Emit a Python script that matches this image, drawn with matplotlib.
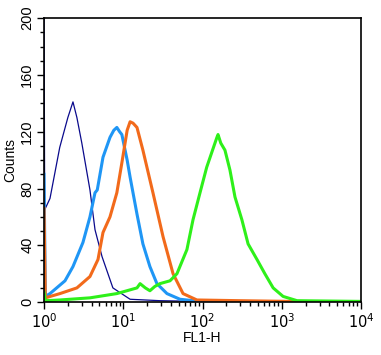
import matplotlib.pyplot as plt
import numpy as np

plt.rcParams['font.family'] = ['Liberation Sans', 'DejaVu Sans']

# FL1-H positions / counts
navy_x = [1.0, 1.02, 1.19, 1.58, 2.0, 2.32, 2.6, 3.0, 3.8, 4.4, 5.4, 7.4, 12.2, 29, 93, 300]
navy_y = [215, 65, 73, 109, 130, 141, 130, 112, 79, 51, 32, 10, 2, 1, 0.5, 0]

blue_x = [1.0, 1.04, 1.19, 1.84, 2.32, 3.1, 3.8, 4.4, 4.7, 5.55, 6.8, 7.6, 8.3, 9.0, 9.6, 11.2,
          12.2, 14.9, 17.7, 21.7, 26.6, 35.6, 52, 93, 10000]
blue_y = [90, 4, 6, 15, 25, 42, 60, 77, 79, 102, 116, 121, 123, 120, 118, 100,
          88, 62, 41, 25, 13, 6, 2, 0.5, 0]

orange_x = [1.0, 1.04, 1.59, 2.6, 3.8, 4.8, 5.55, 6.8, 8.3, 9.6, 11.2, 12.2, 13.3, 14.9,
            17.7, 23.7, 31.8, 42.5, 56.8, 85, 298, 1260, 10000]
orange_y = [66, 3, 6, 10, 18, 30, 49, 60, 77, 98, 121, 127, 126, 123,
            107, 77, 46, 20, 6, 1.5, 1, 0.5, 0]

green_x = [1.0, 1.04, 1.59, 3.8, 8.3, 14.9, 16.3, 19, 21.7, 25, 29, 38.9, 47.6, 63.6, 75.9,
           93, 113, 152, 157, 170, 192, 222, 257, 314, 376, 487, 612, 779, 1040, 1560, 10000]
green_y = [7, 1, 1.5, 3, 6, 10, 13, 10, 8, 11, 13, 15, 20, 37, 58,
           77, 95, 116, 118, 112, 107, 93, 74, 58, 41, 30, 20, 10, 4, 1, 0.5]

fig = plt.figure(figsize=(3.81, 3.55), dpi=100)
ax = fig.add_axes([0.1155, 0.149, 0.832, 0.8])

ax.plot(navy_x, navy_y, color='#0a0a8c', lw=0.9)
ax.plot(blue_x, blue_y, color='#1f96f5', lw=2.2)
ax.plot(orange_x, orange_y, color='#f26a1b', lw=2.2)
ax.plot(green_x, green_y, color='#2ef01a', lw=2.2)

ax.set_xscale('log')
ax.set_xlim(1, 10000)
ax.set_ylim(0, 200)
ax.set_yticks([0, 40, 80, 120, 160, 200])
ax.set_yticks(np.arange(0, 201, 10), minor=True)
ax.set_xticks([1, 10, 100, 1000, 10000])
ax.set_xticklabels(['$10^0$', '$10^1$', '$10^2$', '$10^3$', '$10^4$'])
for lab in ax.get_yticklabels():
    lab.set_rotation(90)
    lab.set_va('center')
ax.tick_params(which='major', direction='out', length=5, width=1, labelsize=10.5, pad=2)
ax.tick_params(which='minor', direction='out', length=3, width=1)
ax.set_xlabel('FL1-H', fontsize=10, labelpad=0)
ax.set_ylabel('Counts', fontsize=10, labelpad=2)
for s in ax.spines.values():
    s.set_linewidth(1.2)

plt.savefig('out.png', dpi=100)
